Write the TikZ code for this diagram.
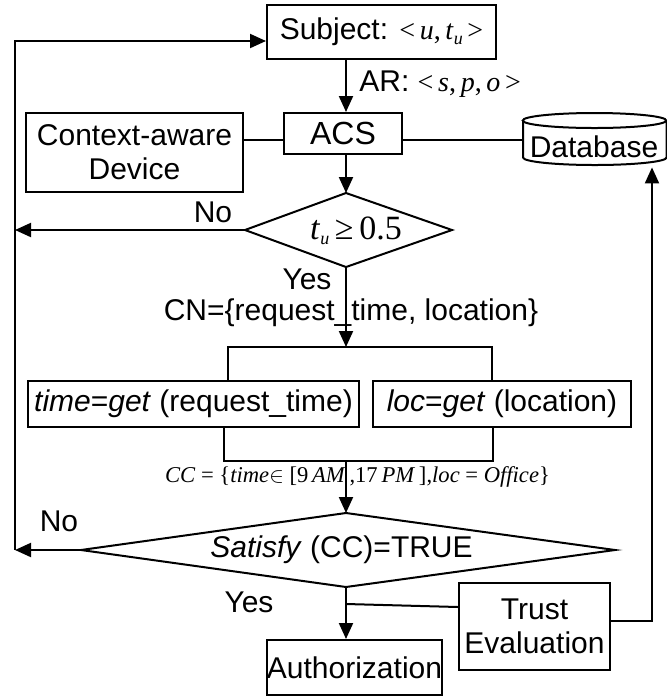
\documentclass[tikz,border=0pt]{standalone}
\usepackage{fontspec}
\setmainfont{Liberation Sans}
\newfontfamily\tnr{Liberation Serif}
\usetikzlibrary{arrows.meta}

% text sizes
\newcommand{\lbl}{\fontsize{15}{17}\selectfont}
\newcommand{\mth}{\tnr\fontsize{14}{15}\selectfont}
% a variable with an italic subscript, set in the serif face
\newcommand{\subv}[2]{\textit{#1}\raisebox{-0.35ex}{\fontsize{9}{9}\selectfont\textit{#2}}}

\begin{document}
\begin{tikzpicture}[x=0.5pt,y=-0.5pt,
  flow/.style={line width=1pt},
  arr/.style={flow,-{Triangle[length=8pt,width=7pt]}},
  box/.style={draw,line width=1pt,inner sep=0pt,font=\lbl,align=center},
  tag/.style={inner sep=0pt,font=\lbl}]
\useasboundingbox (0,0) rectangle (667,698);

% boxes
\node[box,minimum width=114.5pt,minimum height=27pt] (subj) at (381.5,32)
  {Subject: {\mth<\,\textit{u},\,\subv{t}{u}\,>}};
\node[box,minimum width=59pt,minimum height=20.5pt,font=\fontsize{16}{18}\selectfont] (acs) at (343,133.5) {ACS};
\node[box,minimum width=108.5pt,minimum height=39.5pt] (cad) at (134.5,152.5) {Context-aware\\Device};
\node[inner sep=0pt,minimum width=72pt,minimum height=26pt,font=\lbl] (db) at (595,141) {};
\node[tag] (dbt) at (594,147) {Database};
\node[box,minimum width=165.5pt,minimum height=23pt] (tg) at (193.5,404)
  {\textit{time}=\textit{get} (request\_time)};
\node[box,minimum width=129pt,minimum height=23pt] (lg) at (502,404)
  {\textit{loc}=\textit{get} (location)};
\node[box,minimum width=87.5pt,minimum height=27.5pt] (auth) at (354.5,667.5) {Authorization};
\node[box,minimum width=75.5pt,minimum height=43.5pt] (trust) at (534.5,626.5) {Trust\\Evaluation};

% database drum
\draw[flow] (594.5,120.5) ellipse [x radius=35.9pt,y radius=3.75pt];
\draw[flow] (523,120.5) -- (523,157.5)
  arc [start angle=180,end angle=360,x radius=35.9pt,y radius=3.75pt] -- (666.6,120.5);

% decision corners
\coordinate (d1n) at (346,193);
\coordinate (d1s) at (346,267);
\coordinate (d1w) at (245,230);
\coordinate (d1e) at (452,230);
\coordinate (d2n) at (346,513);
\coordinate (d2s) at (346,587);
\coordinate (d2w) at (81,550);
\coordinate (d2e) at (615,550);

% decisions
\draw[flow] (d1n) -- (d1e) -- (d1s) -- (d1w) -- cycle;
\node[inner sep=0pt,font=\tnr\fontsize{17}{18}\selectfont] (d1) at (356,231)
  {\subv{t}{u}\,≥\,0.5};
\draw[flow] (d2n) -- (d2e) -- (d2s) -- (d2w) -- cycle;
\node[tag] (d2) at (341.5,550) {\textit{Satisfy} (CC)=TRUE};

% junction points
\coordinate (lt) at (15,41);
\coordinate (lbot) at (15,550);
\coordinate (lmid) at (15,230);
\coordinate (bar1) at (346,347);
\coordinate (bl) at (228,347);
\coordinate (br) at (492,347);
\coordinate (bar2) at (346,461);
\coordinate (cl) at (224,461);
\coordinate (cr) at (493,461);
\coordinate (tj) at (346,604);
\coordinate (rt) at (652,621);

% connectors
\draw[arr] (subj.south -| d1n) -- (acs.north -| d1n);
\draw[flow] (cad.east |- 0,140) -- (acs.west |- 0,140);
\draw[flow] (acs.east |- 0,140) -- (db.west |- 0,140);
\draw[arr] (acs.south -| d1n) -- (d1n);
\draw[arr] (d1w) -- (lmid);
\draw[arr] (lbot) -- (lt) -- (lt -| subj.west);
\draw[arr] (d1s) -- (bar1);
\draw[flow] (bl |- tg.north) -- (bl) -- (br) -- (br |- lg.north);
\draw[flow] (cl |- tg.south) -- (cl) -- (cr) -- (cr |- lg.south);
\draw[arr] (bar2) -- (d2n);
\draw[arr] (d2w) -- (lbot);
\draw[arr] (d2s) -- (d2s |- auth.north);
\draw[flow] (tj) -- ([yshift=9.75pt]trust.west);
\draw[arr] (trust.east |- rt) -- (rt) -- (rt |- db.south);

% labels
\node[tag,anchor=west] (ar) at (359,84) {AR: {\mth<\,\textit{s},\,\textit{p},\,\textit{o}\,>}};
\node[tag] (no1) at (213,212) {No};
\node[tag] (yes1) at (307,279) {Yes};
\node[tag] (cn) at (351,313) {CN=\{request\_time, location\}};
\node[inner sep=0pt,font=\tnr\fontsize{11.3}{13}\selectfont] (cc) at (357.5,477)
  {\textit{CC} = \{\textit{time}$\in$ [9\,\textit{AM}\,,17\,\textit{PM}\,],\textit{loc} = \textit{Office}\}};
\node[tag] (no2) at (59,521) {No};
\node[tag] (yes2) at (249,602.5) {Yes};
\end{tikzpicture}
\end{document}
